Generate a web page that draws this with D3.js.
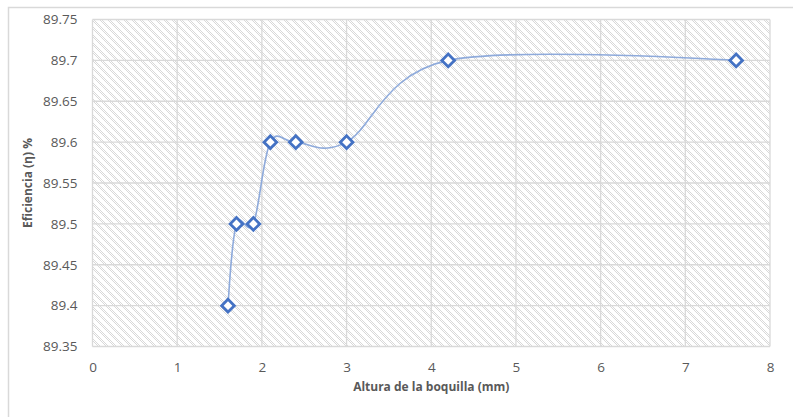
<!DOCTYPE html>
<html>
<head>
<meta charset="utf-8">
<script src="https://cdn.jsdelivr.net/npm/d3@7"></script>
<style>
  html, body { margin: 0; padding: 0; background: #ffffff; }
  svg { display: block; }
</style>
</head>
<body>
<svg id="chart" width="793" height="417"></svg>
<script>
// Nozzle height (mm) vs. efficiency (%)
const alturas = [1.6, 1.7, 1.9, 2.1, 2.4, 3.0, 4.2, 7.6];
const eficiencias = [89.4, 89.5, 89.5, 89.6, 89.6, 89.6, 89.7, 89.7];
const xTicks = [0, 1, 2, 3, 4, 5, 6, 7, 8];
const yTicks = [89.35, 89.4, 89.45, 89.5, 89.55, 89.6, 89.65, 89.7, 89.75];
const xTitulo = "Altura de la boquilla (mm)";
const yTitulo = "Eficiencia (η) %";

const svg = d3.select("#chart");
const W = 793, H = 417;
const plot = { left: 92.5, right: 770, top: 19.5, bottom: 346.5 };
const font = "'Open Sans', 'Liberation Sans', sans-serif";
const gridColor = "#d9d9d9";
const textColor = "#595959";

// outer chart frame
svg.append("rect")
  .attr("x", 8.5).attr("y", 7.5)
  .attr("width", W + 10).attr("height", H + 10)
  .attr("fill", "#ffffff")
  .attr("stroke", gridColor).attr("stroke-width", 1.5);

// dithered downward-diagonal hatch for the plot area
const defs = svg.append("defs");
const pat = defs.append("pattern")
  .attr("id", "hatch")
  .attr("patternUnits", "userSpaceOnUse")
  .attr("width", 8).attr("height", 8);
pat.append("rect").attr("width", 8).attr("height", 8).attr("fill", "#ffffff");
for (let r = 0; r < 8; r++) {
  for (let k = 0; k < 4; k++) {
    const c = (r + k) % 8;
    if ((c + r) % 2 === 0) {
      pat.append("rect")
        .attr("x", c).attr("y", r)
        .attr("width", 1).attr("height", 1)
        .attr("fill", "#d8d8d8");
    }
  }
}

const x = d3.scaleLinear().domain([0, 8]).range([plot.left, plot.right]);
const y = d3.scaleLinear().domain([89.35, 89.75]).range([plot.bottom, plot.top]);

svg.append("rect")
  .attr("x", plot.left).attr("y", plot.top)
  .attr("width", plot.right - plot.left)
  .attr("height", plot.bottom - plot.top)
  .attr("fill", "url(#hatch)");

// gridlines
const grid = svg.append("g");
grid.selectAll("line.h").data(yTicks).join("line")
  .attr("class", "h")
  .attr("x1", plot.left).attr("x2", plot.right)
  .attr("y1", d => y(d)).attr("y2", d => y(d))
  .attr("stroke", gridColor).attr("stroke-width", 1.3);
grid.selectAll("line.v").data(xTicks).join("line")
  .attr("class", "v")
  .attr("y1", plot.top).attr("y2", plot.bottom)
  .attr("x1", d => x(d)).attr("x2", d => x(d))
  .attr("stroke", gridColor).attr("stroke-width", 1.3);

// axes (labels only, Excel style)
const xAxis = svg.append("g")
  .attr("transform", `translate(0,${plot.bottom + 13})`)
  .call(d3.axisBottom(x).tickValues(xTicks).tickSize(0).tickFormat(d3.format("d")));
const yAxis = svg.append("g")
  .attr("transform", `translate(${plot.left - 12},0)`)
  .call(d3.axisLeft(y).tickValues(yTicks).tickSize(0).tickFormat(d => String(+d.toFixed(2))));
[xAxis, yAxis].forEach(g => {
  g.select(".domain").remove();
  g.selectAll("text")
    .attr("fill", textColor)
    .style("font-family", font)
    .style("font-size", "13.5px");
});

// smoothed series line
const pts = alturas.map((a, i) => [a, eficiencias[i]]);
const line = d3.line()
  .x(d => x(d[0])).y(d => y(d[1]))
  .curve(d3.curveCatmullRom.alpha(0));
svg.append("path")
  .datum(pts)
  .attr("d", line)
  .attr("fill", "none")
  .attr("stroke", "#8eaadb")
  .attr("stroke-width", 1.6);

// diamond markers
const diamond = d3.symbol().type(d3.symbolSquare).size(80);
svg.selectAll("path.m").data(pts).join("path")
  .attr("class", "m")
  .attr("d", diamond)
  .attr("transform", d => `translate(${x(d[0])},${y(d[1])}) rotate(45)`)
  .attr("fill", "#ffffff")
  .attr("stroke", "#4472c4")
  .attr("stroke-width", 2.8);

// axis titles
svg.append("text")
  .attr("x", (plot.left + plot.right) / 2)
  .attr("y", 391)
  .attr("text-anchor", "middle")
  .attr("fill", textColor)
  .style("font-family", font)
  .style("font-size", "12px")
  .style("font-weight", "bold")
  .text(xTitulo);
svg.append("text")
  .attr("transform", `translate(32,${(plot.top + plot.bottom) / 2}) rotate(-90)`)
  .attr("text-anchor", "middle")
  .attr("fill", textColor)
  .style("font-family", font)
  .style("font-size", "12px")
  .style("font-weight", "bold")
  .text(yTitulo);
</script>
</body>
</html>
